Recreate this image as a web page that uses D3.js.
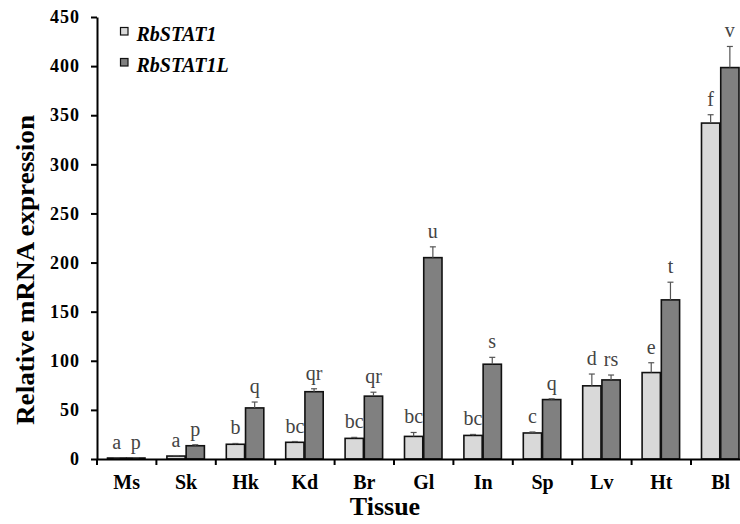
<!DOCTYPE html>
<html>
<head>
<meta charset="utf-8">
<script src="https://cdn.jsdelivr.net/npm/d3@7"></script>
<style>
  body { margin: 0; background: #fff; }
  svg { display: block; }
</style>
</head>
<body>
<svg id="drawing_region"></svg>
<script>
// data
const tissues = ['Ms', 'Sk', 'Hk', 'Kd', 'Br', 'Gl', 'In', 'Sp', 'Lv', 'Ht', 'Bl'];
const stat1 = [1, 3, 15, 17, 21, 23, 24, 26.5, 74.5, 88, 342];
const stat1Err = [0.3, 0.5, 0.8, 0.8, 1, 4, 1, 1, 12, 10, 8.5];
const stat1L = [1, 13.5, 52, 68.5, 64, 205, 96.5, 60.5, 80.5, 162, 398.5];
const stat1LErr = [0.3, 1, 6, 3, 4, 11, 7, 0.8, 5, 18, 21.5];
const letters1 = ['a', 'a', 'b', 'bc', 'bc', 'bc', 'bc', 'c', 'd', 'e', 'f'];
const letters2 = ['p', 'p', 'q', 'qr', 'qr', 'u', 's', 'q', 'rs', 't', 'v'];
const seriesNames = ['RbSTAT1', 'RbSTAT1L'];
const seriesColors = ['#d9d9d9', '#808080'];
const yTicks = [0, 50, 100, 150, 200, 250, 300, 350, 400, 450];

const config = {
    width: 740,
    height: 524,
    left: 97,
    bottom: 459,
    top: 17,
    step: 59.4,
};

const svg = d3.select('#drawing_region')
    .attr('width', config.width)
    .attr('height', config.height);

const x = d3.scaleBand()
    .domain(tissues)
    .range([config.left, config.left + config.step * tissues.length])
    .padding(0);

const xs = d3.scaleBand()
    .domain(seriesNames)
    .range([10.5, 48])
    .paddingInner(0.05);

const y = d3.scaleLinear()
    .domain([0, 450])
    .range([config.bottom, config.top]);

// table built from the arrays
const rows = [];
tissues.forEach((t, i) => {
    rows.push({ t: t, s: seriesNames[0], v: stat1[i], e: stat1Err[i], lab: letters1[i], c: seriesColors[0] });
    rows.push({ t: t, s: seriesNames[1], v: stat1L[i], e: stat1LErr[i], lab: letters2[i], c: seriesColors[1] });
});

const serif = "'Liberation Serif', 'Times New Roman', serif";

// bars
svg.append('g').selectAll('rect')
    .data(rows)
    .join('rect')
    .attr('x', d => x(d.t) + xs(d.s))
    .attr('y', d => y(d.v))
    .attr('width', xs.bandwidth())
    .attr('height', d => y(0) - y(d.v))
    .attr('fill', d => d.c)
    .attr('stroke', '#111')
    .attr('stroke-width', 1.6);

// error bars
const eg = svg.append('g').attr('stroke', '#555').attr('stroke-width', 1.2);
eg.selectAll('line.v')
    .data(rows)
    .join('line')
    .attr('class', 'v')
    .attr('x1', d => x(d.t) + xs(d.s) + xs.bandwidth() / 2)
    .attr('x2', d => x(d.t) + xs(d.s) + xs.bandwidth() / 2)
    .attr('y1', d => y(d.v))
    .attr('y2', d => y(d.v + d.e));
eg.selectAll('line.c')
    .data(rows)
    .join('line')
    .attr('class', 'c')
    .attr('x1', d => x(d.t) + xs(d.s) + xs.bandwidth() / 2 - 3)
    .attr('x2', d => x(d.t) + xs(d.s) + xs.bandwidth() / 2 + 3)
    .attr('y1', d => y(d.v + d.e))
    .attr('y2', d => y(d.v + d.e));

// significance letters
svg.append('g').selectAll('text')
    .data(rows)
    .join('text')
    .attr('x', d => x(d.t) + xs(d.s) + xs.bandwidth() / 2)
    .attr('y', d => y(d.v + d.e) - 9)
    .attr('text-anchor', 'middle')
    .style('font-family', serif)
    .style('font-size', '20px')
    .style('fill', '#444')
    .text(d => d.lab);

// y axis
const yAxis = svg.append('g')
    .attr('transform', `translate(${config.left},0)`)
    .call(d3.axisLeft(y).tickValues(yTicks).tickSize(6).tickSizeOuter(0).tickPadding(11));
yAxis.select('.domain').attr('stroke', '#000').attr('stroke-width', 2);
yAxis.selectAll('.tick line').attr('stroke', '#000').attr('stroke-width', 2);
yAxis.selectAll('.tick text')
    .style('font-family', serif)
    .style('font-weight', 'bold')
    .style('font-size', '18px')
    .style('letter-spacing', '1px')
    .attr('fill', '#000');

// x axis: labels at centres, ticks at band edges
const xAxis = svg.append('g')
    .attr('transform', `translate(0,${config.bottom})`)
    .call(d3.axisBottom(x).tickSize(0).tickSizeOuter(0).tickPadding(16));
xAxis.select('.domain').attr('stroke', '#000').attr('stroke-width', 2);
xAxis.selectAll('.tick text')
    .style('font-family', serif)
    .style('font-weight', 'bold')
    .style('font-size', '20px')
    .attr('fill', '#000');

svg.append('g').selectAll('line')
    .data(tissues)
    .join('line')
    .attr('x1', d => x(d))
    .attr('x2', d => x(d))
    .attr('y1', config.bottom)
    .attr('y2', config.bottom + 6)
    .attr('stroke', '#000')
    .attr('stroke-width', 2);

// axis titles
svg.append('text')
    .attr('transform', 'translate(34,270) rotate(-90)')
    .attr('text-anchor', 'middle')
    .style('font-family', serif)
    .style('font-weight', 'bold')
    .style('font-size', '25px')
    .attr('textLength', 310)
    .attr('lengthAdjust', 'spacingAndGlyphs')
    .text('Relative mRNA expression');

svg.append('text')
    .attr('x', 385)
    .attr('y', 515)
    .attr('text-anchor', 'middle')
    .style('font-family', serif)
    .style('font-weight', 'bold')
    .style('font-size', '26px')
    .text('Tissue');

// legend
const legend = svg.append('g').selectAll('g')
    .data(seriesNames)
    .join('g')
    .attr('transform', (d, i) => `translate(120.5,${27.5 + i * 31})`);
legend.append('rect')
    .attr('width', 7.5)
    .attr('height', 7.5)
    .attr('fill', (d, i) => seriesColors[i])
    .attr('stroke', '#111')
    .attr('stroke-width', 1.2);
legend.append('text')
    .attr('x', 16)
    .attr('y', 13.5)
    .style('font-family', serif)
    .style('font-weight', 'bold')
    .style('font-style', 'italic')
    .style('font-size', '20px')
    .text(d => d);
</script>
</body>
</html>
